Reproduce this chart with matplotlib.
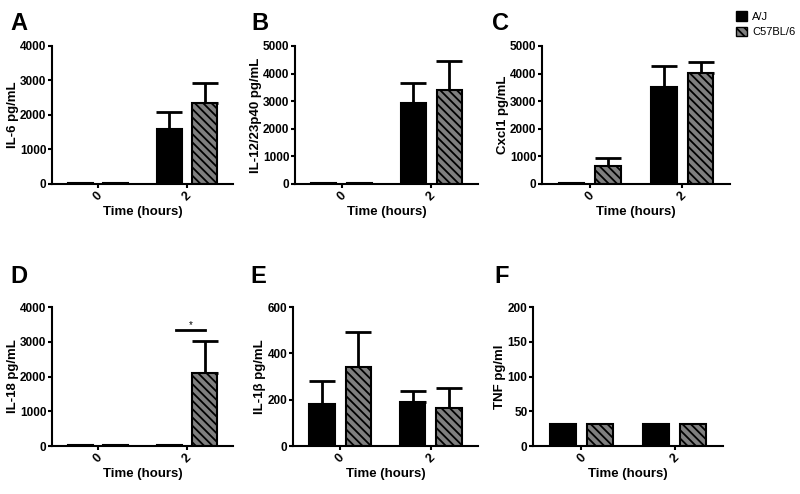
import numpy as np
import matplotlib
matplotlib.use("Agg")
import matplotlib.pyplot as plt
from matplotlib.patches import Patch

plt.rcParams['font.family'] = ['Liberation Sans', 'DejaVu Sans']
plt.rcParams['hatch.linewidth'] = 1.3

# data
time_labels = ["0", "2"]
panel_letters = ["A", "B", "C", "D", "E", "F"]
ylabels = ["IL-6 pg/mL", "IL-12/23p40 pg/mL", "Cxcl1 pg/mL",
           "IL-18 pg/mL", "IL-1\u03b2 pg/mL", "TNF pg/ml"]
ymax = [4000, 5000, 5000, 4000, 600, 200]
ystep = [1000, 1000, 1000, 1000, 200, 50]

aj_mean = [[20, 1600], [40, 2920], [20, 3500], [30, 30], [181, 188], [32, 32]]
aj_top = [[None, 2075], [None, 3650], [None, 4280], [None, None], [280, 239], [None, None]]
b6_mean = [[20, 2345], [40, 3410], [660, 4025], [30, 2105], [342, 165], [32, 32]]
b6_top = [[None, 2920], [None, 4445], [925, 4420], [None, 3015], [491, 252], [None, None]]

# axes rectangles in pixels: left, right, top, bottom
rects = [(52, 233, 46, 184), (295, 478, 46, 184), (542, 730, 46, 184),
         (52, 233, 307, 446), (293, 478, 307, 446), (533, 723, 307, 446)]
letter_pos = [(10, 30), (251, 30), (492, 30), (10, 283), (250, 283), (494, 283)]

W, H = 800, 494
fig = plt.figure(figsize=(8, 4.94), dpi=100)

x = np.arange(len(time_labels))
w = 0.28
off = 0.2
hatch = "\\\\\\\\"

for i in range(6):
    l, r, t, b = rects[i]
    ax = fig.add_axes([l / W, 1 - b / H, (r - l) / W, (b - t) / H])
    ax.bar(x - off, aj_mean[i], w, color="black", edgecolor="black", lw=1.5, zorder=2)
    ax.bar(x + off, b6_mean[i], w, color="#7f7f7f", edgecolor="black", lw=1.5,
           hatch=hatch, zorder=2)
    for j in range(len(x)):
        for xpos, m, tp in [(x[j] - off, aj_mean[i][j], aj_top[i][j]),
                            (x[j] + off, b6_mean[i][j], b6_top[i][j])]:
            if tp is not None:
                ax.errorbar(xpos, m, yerr=[[0], [tp - m]], fmt="none", ecolor="black",
                            elinewidth=2, capsize=9.5, capthick=2, zorder=1)
    ax.set_xlim(-0.52, 1.52)
    ax.set_ylim(0, ymax[i])
    ax.set_yticks(np.arange(0, ymax[i] + 1, ystep[i]))
    ax.set_xticks(x)
    ax.set_xticklabels(time_labels, rotation=45, fontweight="bold", fontsize=9)
    for lab in ax.get_yticklabels():
        lab.set_fontweight("bold")
        lab.set_fontsize(8.5)
    ax.set_ylabel(ylabels[i], fontweight="bold", fontsize=9.5, labelpad=1)
    ax.set_xlabel("Time (hours)", fontweight="bold", fontsize=9.5, labelpad=2)
    for s in ["top", "right"]:
        ax.spines[s].set_visible(False)
    for s in ["left", "bottom"]:
        ax.spines[s].set_linewidth(1.5)
    ax.tick_params(width=1.5, length=3, pad=1)
    fig.text(letter_pos[i][0] / W, 1 - letter_pos[i][1] / H, panel_letters[i],
             fontsize=17, fontweight="bold", ha="left", va="baseline")
    if i == 3:
        ax.plot([0.88, 1.21], [3350, 3350], color="black", lw=2)
        ax.text(1.045, 3350, "*", ha="center", va="bottom", fontsize=7)

handles = [Patch(facecolor="black", edgecolor="black", label="A/J"),
           Patch(facecolor="#7f7f7f", edgecolor="black", hatch=hatch, label="C57BL/6")]
fig.legend(handles=handles, loc="upper left", bbox_to_anchor=(728 / W, 1 - 3 / H),
           frameon=False, fontsize=8, handlelength=1.0, handleheight=1.0,
           handletextpad=0.5, labelspacing=0.45, borderpad=0.2)

fig.savefig("out.png", dpi=100)
